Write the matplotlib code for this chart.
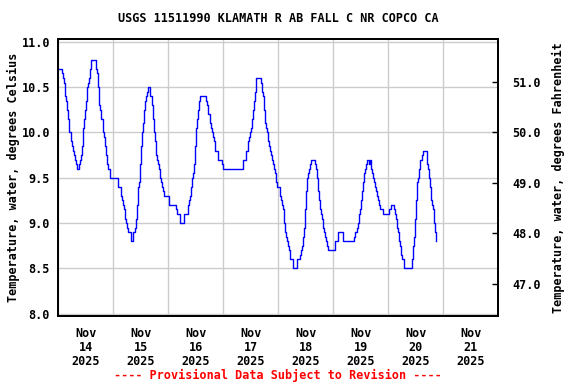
import matplotlib
matplotlib.use("Agg")
import matplotlib.pyplot as plt
import numpy as np

# Hours since Nov 14 2025 00:00 and water temperature (deg C), step data
hours = [0.0, 1.47, 1.91, 2.35, 2.78, 3.22, 3.65, 4.09, 4.53, 5.69, 6.13, 6.56, 7.0, 7.44, 7.87, 8.31,
         9.18, 9.62, 10.05, 10.49, 10.93, 11.36, 11.8, 12.24, 12.67, 13.11, 13.55, 13.98, 14.42,
         16.6, 17.03, 17.47, 17.9, 18.34, 18.78, 19.65, 20.09, 20.53, 20.96, 21.4, 21.84, 22.71,
         26.2, 27.51, 27.95, 28.38, 28.82, 29.25, 29.69, 30.13, 30.56, 31.87, 32.75, 33.62, 34.05,
         34.49, 34.93, 35.36, 35.8, 36.24, 36.67, 37.11, 37.55, 37.98, 38.42, 38.85, 39.29, 40.16,
         41.04, 41.47, 41.91, 42.35, 42.78, 43.22, 43.65, 44.09, 44.53, 44.96, 45.4, 45.84, 46.27,
         48.16, 51.51, 51.95, 53.25, 55.0, 56.75, 57.18, 57.62, 58.05, 58.49, 58.93, 59.36, 59.8,
         60.24, 60.67, 61.11, 61.55, 61.98, 64.6, 65.04, 65.47, 66.35, 66.78, 67.22, 67.65, 68.09,
         68.53, 69.84, 71.58, 72.02,
         80.75, 82.05, 82.93, 83.36, 83.8, 84.24, 84.67, 85.11, 85.55, 85.98, 86.42, 88.6, 89.04,
         89.47, 89.91, 90.35, 90.78, 91.22, 91.65, 92.09, 92.53, 92.96, 93.4, 93.84, 94.27, 94.71,
         95.15, 95.58, 96.6,
         97.04, 97.47, 97.91, 98.35, 98.78, 99.22, 99.65, 100.09, 100.53, 100.96, 102.27, 104.31,
         105.62, 106.05, 106.49, 106.93, 107.36, 107.8, 108.24, 108.67, 109.11, 109.55, 109.98,
         110.42, 112.16, 112.6, 113.04, 113.47, 113.91, 114.35, 114.78, 115.22, 115.65, 116.09,
         116.53, 116.96, 117.4, 117.84, 120.6,
         122.2, 124.09, 129.18, 129.62, 130.49, 130.93, 131.36, 131.8, 132.24, 132.67, 133.11,
         133.55, 133.98, 134.42, 134.85, 135.44, 135.87, 136.31, 136.75, 137.18, 137.62, 138.05,
         138.49, 138.93, 139.36, 139.8, 140.24, 141.55, 144.45, 145.04,
         146.64, 147.07, 147.51, 147.95, 148.38, 148.82, 149.25, 149.69, 150.13, 151.0, 154.49,
         154.93, 155.36, 155.8, 156.24, 156.67, 157.11, 157.55, 157.98, 158.85, 159.29, 161.04,
         161.47, 161.91, 162.35, 162.78, 163.22, 163.65, 164.09, 164.53, 164.96]
temps = [10.7, 10.65, 10.6, 10.55, 10.4, 10.35, 10.25, 10.15, 10.0, 9.9, 9.85, 9.8, 9.75, 9.7, 9.65, 9.6,
         9.65, 9.7, 9.75, 9.85, 10.05, 10.15, 10.25, 10.35, 10.5, 10.55, 10.6, 10.7, 10.8,
         10.7, 10.65, 10.5, 10.3, 10.25, 10.15, 10.0, 9.95, 9.85, 9.75, 9.65, 9.6, 9.5,
         9.4, 9.3, 9.25, 9.2, 9.15, 9.05, 9.0, 8.95, 8.9, 8.8, 8.9, 8.95, 9.05,
         9.2, 9.4, 9.45, 9.65, 9.85, 10.0, 10.1, 10.25, 10.35, 10.4, 10.45, 10.5, 10.4,
         10.3, 10.15, 10.0, 9.9, 9.75, 9.7, 9.65, 9.6, 9.5, 9.45, 9.4, 9.35, 9.3,
         9.2, 9.15, 9.1, 9.0, 9.1, 9.2, 9.25, 9.3, 9.4, 9.5, 9.55, 9.65, 9.85,
         10.05, 10.15, 10.25, 10.35, 10.4, 10.35, 10.3, 10.2, 10.1, 10.05, 10.0, 9.95, 9.9,
         9.8, 9.7, 9.65, 9.6,
         9.7, 9.8, 9.9, 9.95, 10.0, 10.05, 10.15, 10.25, 10.35, 10.45, 10.6, 10.55, 10.45,
         10.4, 10.25, 10.1, 10.05, 10.0, 9.9, 9.85, 9.8, 9.75, 9.7, 9.65, 9.6, 9.55,
         9.45, 9.4, 9.3,
         9.25, 9.2, 9.15, 9.0, 8.9, 8.85, 8.8, 8.75, 8.7, 8.6, 8.5, 8.6,
         8.65, 8.7, 8.75, 8.85, 8.95, 9.15, 9.35, 9.5, 9.55, 9.6, 9.65,
         9.7, 9.65, 9.6, 9.5, 9.35, 9.25, 9.15, 9.1, 9.05, 8.95, 8.9,
         8.85, 8.8, 8.75, 8.7, 8.8,
         8.9, 8.8, 8.85, 8.9, 8.95, 9.0, 9.1, 9.15, 9.25, 9.35, 9.45,
         9.55, 9.6, 9.65, 9.7, 9.65, 9.7, 9.6, 9.55, 9.5, 9.45, 9.4,
         9.35, 9.3, 9.25, 9.2, 9.15, 9.1, 9.15, 9.2,
         9.15, 9.1, 9.05, 8.95, 8.9, 8.8, 8.75, 8.65, 8.6, 8.5, 8.6,
         8.75, 8.85, 9.05, 9.25, 9.45, 9.5, 9.6, 9.7, 9.75, 9.8, 9.65,
         9.6, 9.5, 9.4, 9.25, 9.2, 9.15, 9.0, 8.9, 8.8]

day_labels = ["Nov\n14\n2025", "Nov\n15\n2025", "Nov\n16\n2025", "Nov\n17\n2025",
              "Nov\n18\n2025", "Nov\n19\n2025", "Nov\n20\n2025", "Nov\n21\n2025"]
c_ticks = [8.0, 8.5, 9.0, 9.5, 10.0, 10.5, 11.0]
f_ticks = [47.0, 48.0, 49.0, 50.0, 51.0]

FONT = "DejaVu Sans Mono"
FS = 8.5

fig = plt.figure(figsize=(5.76, 3.84), dpi=100)
ax = fig.add_axes([58.3 / 576, 1 - 316 / 384, 440 / 576, 277 / 384])

ax.plot(hours, temps, drawstyle="steps-post", color="#0000ff", lw=1.0, zorder=3)

ax.set_xlim(0, 24 * len(day_labels))
ax.set_ylim(7.975, 11.03)

ax.set_xticks(np.arange(0, 24 * len(day_labels) + 1, 24))
ax.set_xticklabels([])
ax.set_xticks(np.arange(12, 24 * len(day_labels), 24), minor=True)
ax.set_xticklabels(day_labels, minor=True, fontfamily=FONT, fontsize=FS, fontweight="bold",
                   linespacing=1.1)
ax.tick_params(axis="x", which="both", length=0, pad=8)

ax.set_yticks(c_ticks)
ax.set_yticklabels([f"{v:.1f}" for v in c_ticks], fontfamily=FONT, fontsize=FS, fontweight="bold")
ax.tick_params(axis="y", direction="in", length=0, pad=6)

ax.grid(True, which="major", color="#cccccc", lw=1.0, zorder=0)
for s in ax.spines.values():
    s.set_linewidth(1.3)
    s.set_color("black")

ax.set_ylabel("Temperature, water, degrees Celsius", fontfamily=FONT, fontsize=FS,
              fontweight="bold", labelpad=1)

ax2 = ax.twinx()
lo, hi = ax.get_ylim()
ax2.set_ylim(lo * 1.8 + 32, hi * 1.8 + 32)
ax2.set_yticks(f_ticks)
ax2.set_yticklabels([f"{v:.1f}" for v in f_ticks], fontfamily=FONT, fontsize=FS, fontweight="bold")
ax2.tick_params(axis="y", direction="in", length=4, width=1.0, pad=10)
ax2.set_ylabel("Temperature, water, degrees Fahrenheit", fontfamily=FONT, fontsize=FS,
               fontweight="bold", labelpad=8)
for s in ax2.spines.values():
    s.set_linewidth(1.3)

fig.text(278 / 576, 1 - 19 / 384, "USGS 11511990 KLAMATH R AB FALL C NR COPCO CA",
         ha="center", va="center", fontfamily=FONT, fontsize=FS, fontweight="bold")
fig.text(278 / 576, 1 - 375 / 384, "---- Provisional Data Subject to Revision ----",
         ha="center", va="center", fontfamily=FONT, fontsize=FS, fontweight="bold", color="red")

fig.savefig("out.png", dpi=100)
